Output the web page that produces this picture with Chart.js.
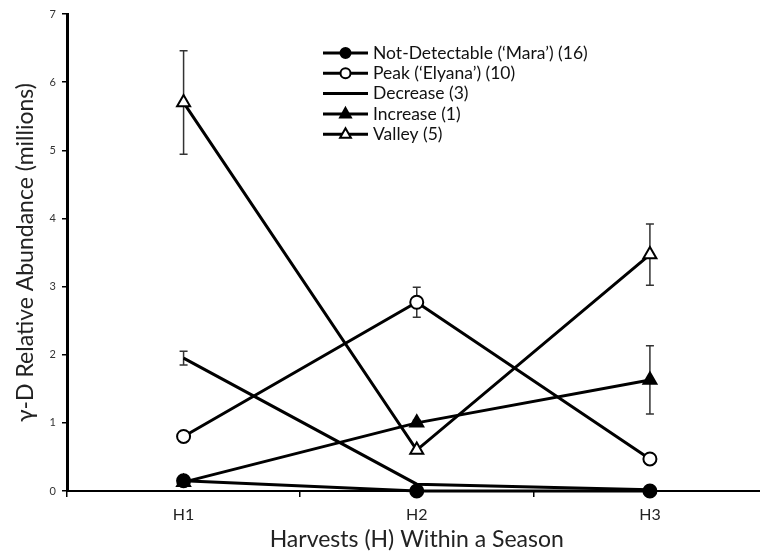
<!DOCTYPE html>
<html>
<head>
<meta charset="utf-8">
<script src="https://cdn.jsdelivr.net/npm/chart.js@4/dist/chart.umd.min.js"></script>
<style>
  html, body { margin: 0; padding: 0; background: #fff; }
  #wrap { width: 760px; height: 557px; overflow: hidden; }
</style>
</head>
<body>
<!-- the plot area runs a little past the right edge, as in the original figure -->
<div id="wrap"><canvas id="chart" width="776" height="557"></canvas></div>
<script>
// --- data ---
const harvests = ['H1', 'H2', 'H3'];
const yTicks = [0, 1, 2, 3, 4, 5, 6, 7];

const maraVals = [0.15, 0.0, 0.0];
const elyanaVals = [0.80, 2.77, 0.47];
const decreaseVals = [1.95, 0.10, 0.02];
const increaseVals = [0.13, 1.00, 1.63];
const valleyVals = [5.70, 0.60, 3.47];

// error bar half-widths (same units)
const maraErr = [0, 0, 0];
const elyanaErr = [0, 0.22, 0];
const decreaseErr = [0.10, 0, 0];
const increaseErr = [0, 0.04, 0.50];
const valleyErr = [0.76, 0, 0.45];

const seriesNames = [
    "Not-Detectable (\u2018Mara\u2019) (16)",
    "Peak (\u2018Elyana\u2019) (10)",
    "Decrease (3)",
    "Increase (1)",
    "Valley (5)"
];

const FONT = 'Lato, "Open Sans", sans-serif';

function series(label, data, err, style, fill, show) {
    return {
        label: label,
        data: data,
        errors: err,
        borderColor: '#000',
        borderWidth: 3,
        pointStyle: style,
        pointRadius: show ? (style === 'circle' ? 6.5 : 7.5) : 0,
        pointBorderWidth: 2,
        pointBackgroundColor: fill,
        pointBorderColor: '#000',
        tension: 0,
        clip: false
    };
}

// --- error bars drawn through the y scale ---
const errorBars = {
    id: 'errorBars',
    beforeDatasetsDraw(chart) {
        const ctx = chart.ctx;
        const y = chart.scales.y;
        ctx.save();
        ctx.strokeStyle = '#333';
        ctx.lineWidth = 1.5;
        chart.data.datasets.forEach((ds, i) => {
            const meta = chart.getDatasetMeta(i);
            ds.errors.forEach((e, j) => {
                if (!e) return;
                const px = meta.data[j].x;
                const top = y.getPixelForValue(ds.data[j] + e);
                const bot = y.getPixelForValue(ds.data[j] - e);
                ctx.beginPath();
                ctx.moveTo(px, top); ctx.lineTo(px, bot);
                ctx.moveTo(px - 4, top); ctx.lineTo(px + 4, top);
                ctx.moveTo(px - 4, bot); ctx.lineTo(px + 4, bot);
                ctx.stroke();
            });
        });
        ctx.restore();
    }
};

// --- legend: line sample with marker, as in the figure ---
const lineLegend = {
    id: 'lineLegend',
    afterDraw(chart) {
        const ctx = chart.ctx;
        const x0 = 323, x1 = 368, top = 53, step = 20.3;
        ctx.save();
        chart.data.datasets.forEach((ds, i) => {
            const yy = top + i * step;
            ctx.strokeStyle = '#000';
            ctx.lineWidth = 3;
            ctx.beginPath();
            ctx.moveTo(x0, yy); ctx.lineTo(x1, yy);
            ctx.stroke();
            if (ds.pointRadius > 0) {
                ctx.fillStyle = ds.pointBackgroundColor;
                ctx.strokeStyle = '#000';
                ctx.lineWidth = 2;
                ctx.beginPath();
                const r = ds.pointStyle === 'circle' ? 5 : 6;
                const cx = (x0 + x1) / 2;
                if (ds.pointStyle === 'circle') {
                    ctx.arc(cx, yy, r, 0, Math.PI * 2);
                } else {
                    ctx.moveTo(cx, yy - r);
                    ctx.lineTo(cx + r * 0.9, yy + r * 0.6);
                    ctx.lineTo(cx - r * 0.9, yy + r * 0.6);
                    ctx.closePath();
                }
                ctx.fill();
                ctx.stroke();
            }
            ctx.fillStyle = '#111';
            ctx.font = '17.5px ' + FONT;
            ctx.textBaseline = 'middle';
            ctx.fillText(ds.label, 373, yy);
        });
        ctx.restore();
    }
};

new Chart(document.getElementById('chart'), {
    type: 'line',
    data: {
        labels: harvests,
        datasets: [
            series(seriesNames[0], maraVals, maraErr, 'circle', '#000', true),
            series(seriesNames[1], elyanaVals, elyanaErr, 'circle', '#fff', true),
            series(seriesNames[2], decreaseVals, decreaseErr, 'circle', '#000', false),
            series(seriesNames[3], increaseVals, increaseErr, 'triangle', '#000', true),
            series(seriesNames[4], valleyVals, valleyErr, 'triangle', '#fff', true)
        ]
    },
    options: {
        responsive: false,
        animation: false,
        layout: { padding: { top: 14, right: 0, left: 0, bottom: 0 } },
        plugins: { legend: { display: false }, tooltip: { enabled: false } },
        scales: {
            x: {
                type: 'category',
                offset: true,
                grid: { offset: true, drawOnChartArea: false, drawTicks: true, tickLength: 6, tickColor: '#000', lineWidth: 1.5 },
                border: { color: '#000', width: 2 },
                ticks: { color: '#222', font: { family: FONT, size: 16 }, padding: 8 },
                title: { display: true, text: 'Harvests (H) Within a Season', color: '#222', font: { family: FONT, size: 23 }, padding: { top: 3 } },
                afterFit(s) { s.height = 66; }
            },
            y: {
                min: 0,
                max: 7,
                afterBuildTicks(s) { s.ticks = yTicks.map(v => ({ value: v })); },
                grid: { drawOnChartArea: false, drawTicks: true, tickLength: 5, tickColor: '#000', lineWidth: 1.5 },
                border: { color: '#000', width: 3 },
                ticks: { color: '#333', font: { family: FONT, size: 11 }, padding: 6 },
                title: { display: true, text: '\u03b3-D Relative Abundance (millions)', color: '#222', font: { family: FONT, size: 23 }, padding: { top: 12, bottom: 0 } },
                afterFit(s) { s.width = 67; }
            }
        }
    },
    plugins: [errorBars, lineLegend]
});
</script>
</body>
</html>
